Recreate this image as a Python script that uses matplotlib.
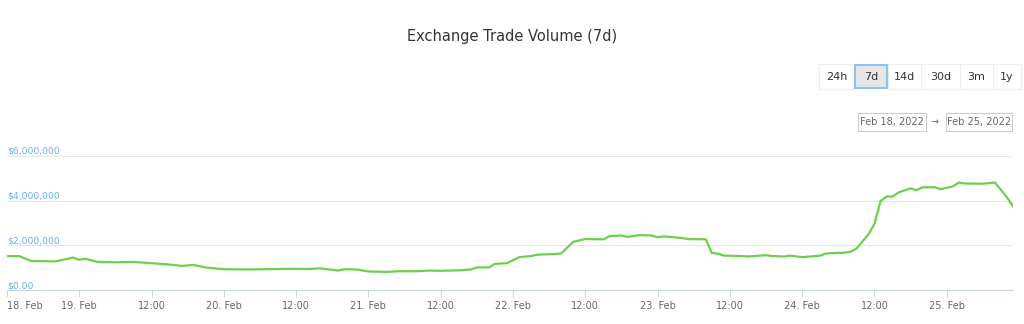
import matplotlib
matplotlib.use("Agg")
import matplotlib.pyplot as plt
from matplotlib.patches import Rectangle
import numpy as np

# hours since 2022-02-18 00:00, trade volume in USD
hours = [12, 14, 16, 18, 20, 23, 24, 25, 27, 30, 33, 36, 39, 41, 43, 45, 48,
         52, 55, 59, 62, 64, 67, 68, 70, 72, 75, 77, 80, 82, 84, 87, 89, 90,
         92, 93, 95, 97, 99, 100, 103, 104, 106, 108, 111, 112, 114, 115, 117,
         119, 120, 121, 124, 125, 128, 129, 130, 131, 134, 135, 136, 138, 139,
         141, 142, 144, 147, 148, 151, 152, 153, 155, 156, 157, 158, 159, 160,
         162, 163, 164, 166, 167, 169, 170, 171, 174, 176, 178, 179]
volume = [1.52, 1.52, 1.30, 1.29, 1.28, 1.45, 1.35, 1.40, 1.26, 1.24, 1.26,
          1.20, 1.14, 1.08, 1.12, 1.01, 0.93, 0.92, 0.93, 0.95, 0.94, 0.97,
          0.87, 0.93, 0.92, 0.83, 0.81, 0.84, 0.84, 0.87, 0.86, 0.88, 0.92,
          1.01, 1.01, 1.17, 1.20, 1.47, 1.52, 1.58, 1.61, 1.64, 2.16, 2.28,
          2.27, 2.41, 2.44, 2.38, 2.46, 2.44, 2.36, 2.40, 2.33, 2.28, 2.27,
          1.66, 1.63, 1.54, 1.52, 1.50, 1.52, 1.56, 1.52, 1.50, 1.54, 1.47,
          1.54, 1.64, 1.67, 1.71, 1.85, 2.49, 2.96, 3.97, 4.19, 4.18, 4.37,
          4.55, 4.47, 4.60, 4.60, 4.51, 4.64, 4.81, 4.77, 4.76, 4.81, 4.15,
          3.75]
volume = [v * 1e6 for v in volume]

tick_hours = [12, 24, 36, 48, 60, 72, 84, 96, 108, 120, 132, 144, 156, 168]
tick_labels = ["18. Feb", "19. Feb", "12:00", "20. Feb", "12:00", "21. Feb",
               "12:00", "22. Feb", "12:00", "23. Feb", "12:00", "24. Feb",
               "12:00", "25. Feb"]
y_ticks = [0, 2e6, 4e6, 6e6]
y_labels = ["$0.00", "$2,000,000", "$4,000,000", "$6,000,000"]
buttons = ["24h", "7d", "14d", "30d", "3m", "1y"]

W, H = 1024, 324
fig = plt.figure(figsize=(W / 100, H / 100), dpi=100)

def px(x0, y0, x1, y1):
    return [x0 / W, 1 - y1 / H, (x1 - x0) / W, (y1 - y0) / H]

ax = fig.add_axes(px(7, 156, 1013, 290))
ax.plot(hours, volume, color="#6cd04c", lw=1.6, solid_joinstyle="round")
ax.set_xlim(12, 179)
ax.set_ylim(0, 6e6)
for s in ["top", "right", "left"]:
    ax.spines[s].set_visible(False)
ax.spines["bottom"].set_color("#ccd6eb")
ax.spines["bottom"].set_linewidth(0.9)
for v in y_ticks[1:]:
    ax.axhline(v, color="#e6e6e6", lw=0.75, zorder=0)
ax.set_yticks([])
ax.set_xticks(tick_hours)
ax.set_xticklabels(tick_labels, fontsize=7, color="#666666")
ax.tick_params(axis="x", length=5, color="#ccd6eb", pad=3)
ax.get_xticklabels()[0].set_horizontalalignment("left")

for v, lab in zip(y_ticks, y_labels):
    ax.text(0, v, lab, transform=ax.get_yaxis_transform(), ha="left",
            va="bottom", fontsize=6.7, color="#6aaef0")

# overlay for title and controls
ov = fig.add_axes([0, 0, 1, 1])
ov.set_xlim(0, W)
ov.set_ylim(H, 0)
ov.axis("off")
ov.patch.set_alpha(0)

ov.text(512, 36, "Exchange Trade Volume (7d)", ha="center", va="center",
        fontsize=10.5, color="#333333")

edges = [819, 854, 888, 921, 960, 993, 1021]
for i, b in enumerate(buttons):
    x0, x1 = edges[i], edges[i + 1]
    if b == "7d":
        ov.add_patch(Rectangle((x0 + 1, 65), x1 - x0 - 2, 23,
                               facecolor="#e6e6e6", edgecolor="#8ec2f5", lw=1.5, zorder=3))
    else:
        ov.add_patch(Rectangle((x0, 64), x1 - x0, 25, facecolor="white",
                               edgecolor="#eeeeee", lw=0.8))
    ov.text((x0 + x1) / 2, 77, b, ha="center", va="center", fontsize=8,
            color="#333333", zorder=4)

for (x0, x1), lab in zip([(858, 926), (946, 1012)], ["Feb 18, 2022", "Feb 25, 2022"]):
    ov.add_patch(Rectangle((x0, 113), x1 - x0, 18, facecolor="white",
                           edgecolor="#cccccc", lw=0.8))
    ov.text((x0 + x1) / 2, 122, lab, ha="center", va="center", fontsize=7,
            color="#666666")
ov.text(935, 122, "→", ha="center", va="center", fontsize=7, color="#666666")

fig.savefig("out.png", dpi=100)
